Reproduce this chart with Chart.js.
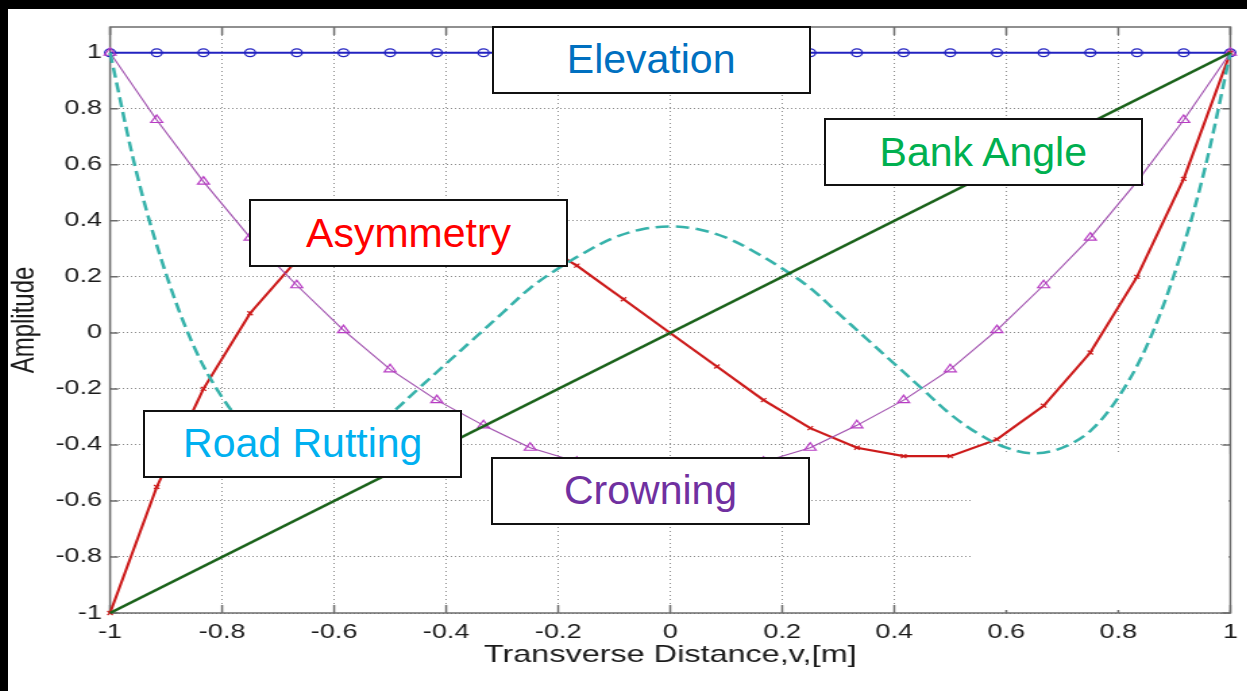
<!DOCTYPE html>
<html>
<head>
<meta charset="utf-8">
<script src="https://cdn.jsdelivr.net/npm/chart.js@4.4.1/dist/chart.umd.min.js"></script>
<style>
  html, body { margin: 0; padding: 0; background: #000; width: 1247px; height: 691px; overflow: hidden; }
  #sheet { position: absolute; left: 8px; top: 9px; width: 1239px; height: 682px; background: #fff; }
  #wrap { position: absolute; left: 0; top: 0; width: 918px; height: 682px; transform: scaleX(1.35); transform-origin: 0 0; }
  .tag { position: absolute; box-sizing: border-box; width: 319px; height: 68px; border: 2px solid #111; background: #fff;
         display: flex; align-items: center; justify-content: center;
         font-family: "Liberation Sans", Arial, sans-serif; font-size: 41px; line-height: 1; }
</style>
</head>
<body>
<div id="sheet">
  <div id="wrap"><canvas id="c" width="918" height="682"></canvas></div>
</div>
<script>
// Horizontal stretch of the plot canvas
const STRETCH = 1.35;

// Sample positions across the road (m) for the marked curves
const sampleV = [-1, -0.9167, -0.8333, -0.75, -0.6667, -0.5833, -0.5, -0.4167, -0.3333, -0.25, -0.1667, -0.0833,
                 0, 0.0833, 0.1667, 0.25, 0.3333, 0.4167, 0.5, 0.5833, 0.6667, 0.75, 0.8333, 0.9167, 1];

const elevation = [1, 1, 1, 1, 1, 1, 1, 1, 1, 1, 1, 1, 1, 1, 1, 1, 1, 1, 1, 1, 1, 1, 1, 1, 1];

const crowning = [1, 0.76, 0.54, 0.34, 0.17, 0.01, -0.13, -0.24, -0.33, -0.41, -0.46, -0.49,
                  -0.5, -0.49, -0.46, -0.41, -0.33, -0.24, -0.13, 0.01, 0.17, 0.34, 0.54, 0.76, 1];

const asymmetry = [-1, -0.55, -0.2, 0.07, 0.26, 0.38, 0.44, 0.44, 0.41, 0.34, 0.24, 0.12,
                   0, -0.12, -0.24, -0.34, -0.41, -0.44, -0.44, -0.38, -0.26, -0.07, 0.2, 0.55, 1];

// Bank angle is a straight ramp
const bankV = [-1, 1];
const bankAngle = [-1, 1];

// Road rutting, finer sampling
const ruttingV = [-1, -0.95, -0.9, -0.85, -0.8, -0.75, -0.7, -0.65, -0.6, -0.55, -0.5, -0.45, -0.4, -0.35, -0.3,
                  -0.25, -0.2, -0.15, -0.1, -0.05, 0, 0.05, 0.1, 0.15, 0.2, 0.25, 0.3, 0.35, 0.4, 0.45, 0.5,
                  0.55, 0.6, 0.65, 0.7, 0.75, 0.8, 0.85, 0.9, 0.95, 1];
const roadRutting = [1, 0.55, 0.21, -0.05, -0.23, -0.35, -0.41, -0.43, -0.41, -0.36, -0.29, -0.2, -0.11, -0.02, 0.07,
                     0.16, 0.23, 0.29, 0.34, 0.37, 0.38, 0.37, 0.34, 0.29, 0.23, 0.16, 0.07, -0.02, -0.11, -0.2, -0.29,
                     -0.36, -0.41, -0.43, -0.41, -0.35, -0.23, -0.05, 0.21, 0.55, 1];

// Axis ticks
const xTicks = [-1, -0.8, -0.6, -0.4, -0.2, 0, 0.2, 0.4, 0.6, 0.8, 1];
const xTickLabels = ['-1', '-0.8', '-0.6', '-0.4', '-0.2', '0', '0.2', '0.4', '0.6', '0.8', '1'];
const yTicks = [-1, -0.8, -0.6, -0.4, -0.2, 0, 0.2, 0.4, 0.6, 0.8, 1];
const yTickLabels = ['-1', '-0.8', '-0.6', '-0.4', '-0.2', '0', '0.2', '0.4', '0.6', '0.8', '1'];

// Mode-shape callouts (centre of each box, in axis units)
const tagNames  = ['Elevation', 'Bank Angle', 'Asymmetry', 'Road Rutting', 'Crowning'];
const tagColors = ['#0070C0', '#00B050', '#FF0000', '#00B0F0', '#7030A0'];
const tagV      = [-0.034, 0.559, -0.467, -0.656, -0.035];
const tagA      = [0.975, 0.645, 0.355, -0.395, -0.564];

// Blank region in the lower right corner (axis units)
const blankFrom = { v: 0.538, a: -0.433 };

const pts = (xs, ys) => xs.map((v, i) => ({ x: v, y: ys[i] }));
const FONT = '"Liberation Sans", Arial, sans-serif';

const framePlugin = {
  id: 'frame',
  beforeDatasetsDraw(chart) {
    const { ctx, chartArea: a, scales: { x, y } } = chart;
    ctx.save();
    ctx.strokeStyle = '#6c6c6c';
    ctx.lineWidth = 1.5;
    ctx.strokeRect(a.left, a.top, a.right - a.left, a.bottom - a.top);
    ctx.beginPath();
    xTicks.forEach(v => {
      const p = x.getPixelForValue(v);
      ctx.moveTo(p, a.bottom); ctx.lineTo(p, a.bottom - 8);
      ctx.moveTo(p, a.top); ctx.lineTo(p, a.top + 8);
    });
    yTicks.forEach(v => {
      const p = y.getPixelForValue(v);
      ctx.moveTo(a.left, p); ctx.lineTo(a.left + 6, p);
      ctx.moveTo(a.right, p); ctx.lineTo(a.right - 6, p);
    });
    ctx.stroke();
    const bx = x.getPixelForValue(blankFrom.v);
    const by = y.getPixelForValue(blankFrom.a);
    ctx.fillStyle = '#fff';
    ctx.fillRect(bx, by, a.right - 1.2 - bx, a.bottom - 3 - by);
    ctx.restore();
  }
};

const chart = new Chart(document.getElementById('c'), {
  type: 'line',
  data: {
    datasets: [
      {
        label: 'Bank Angle', data: pts(bankV, bankAngle),
        borderColor: '#1a621a', borderWidth: 2.6, pointRadius: 0, tension: 0, clip: false
      },
      {
        label: 'Road Rutting', data: pts(ruttingV, roadRutting),
        borderColor: '#36b2aa', borderWidth: 2.5, borderDash: [10, 5], pointRadius: 0, tension: 0.35, clip: false
      },
      {
        label: 'Crowning', data: pts(sampleV, crowning),
        borderColor: '#a050ae', borderWidth: 1.1, tension: 0,
        pointStyle: 'triangle', pointRadius: 5, pointBorderColor: '#b83cc4', pointBorderWidth: 1.2,
        pointBackgroundColor: 'rgba(0,0,0,0)', clip: false
      },
      {
        label: 'Asymmetry', data: pts(sampleV, asymmetry),
        borderColor: '#cc1a1a', borderWidth: 2.1, tension: 0,
        pointStyle: 'crossRot', pointRadius: 2.8, pointBorderColor: '#cc1a1a', pointBorderWidth: 1.2, clip: false
      },
      {
        label: 'Elevation', data: pts(sampleV, elevation),
        borderColor: '#2222c0', borderWidth: 2, tension: 0,
        pointStyle: 'circle', pointRadius: 3.9, pointBorderColor: '#2222c0', pointBorderWidth: 1.3,
        pointBackgroundColor: 'rgba(0,0,0,0)', clip: false
      }
    ]
  },
  options: {
    responsive: false,
    animation: false,
    devicePixelRatio: 1,
    layout: { padding: { left: 0, right: 12.1, top: 14, bottom: 0 } },
    plugins: { legend: { display: false }, tooltip: { enabled: false } },
    scales: {
      x: {
        type: 'linear', min: -1, max: 1,
        afterBuildTicks: s => { s.ticks = xTicks.map(v => ({ value: v })); },
        afterFit: s => { s.height = 78; },
        ticks: {
          autoSkip: false, maxRotation: 0, padding: 7, color: '#1a1a1a',
          font: { family: FONT, size: 20 },
          callback: v => xTickLabels[xTicks.indexOf(v)]
        },
        grid: { color: '#8a8a8a', lineWidth: 1, drawTicks: false },
        border: { display: false, dash: [1, 3] },
        title: {
          display: true, text: 'Transverse Distance,v,[m]', color: '#1a1a1a',
          font: { family: FONT, size: 24, lineHeight: 1.2 }, padding: { top: 0, bottom: 21 }
        }
      },
      y: {
        type: 'linear', min: -1, max: 1.092,
        afterBuildTicks: s => { s.ticks = yTicks.map(v => ({ value: v })); },
        afterFit: s => { s.width = 75.6; },
        ticks: {
          padding: 6, color: '#1a1a1a',
          font: { family: FONT, size: 20 },
          callback: v => yTickLabels[yTicks.indexOf(v)]
        },
        grid: { color: '#8a8a8a', lineWidth: 1, drawTicks: false },
        border: { display: false, dash: [1, 2] },
        title: {
          display: true, text: 'Amplitude', color: '#1a1a1a',
          font: { family: FONT, size: 24, lineHeight: 1.05 }, padding: { top: 0, bottom: 0 }
        }
      }
    }
  },
  plugins: [framePlugin]
});

// Place the callout boxes through the chart's scales
const sheet = document.getElementById('sheet');
tagNames.forEach((name, i) => {
  const cx = chart.scales.x.getPixelForValue(tagV[i]) * STRETCH;
  const cy = chart.scales.y.getPixelForValue(tagA[i]);
  const d = document.createElement('div');
  d.className = 'tag';
  d.textContent = name;
  d.style.color = tagColors[i];
  d.style.left = (cx - 159.5) + 'px';
  d.style.top = (cy - 34) + 'px';
  sheet.appendChild(d);
});
</script>
</body>
</html>
